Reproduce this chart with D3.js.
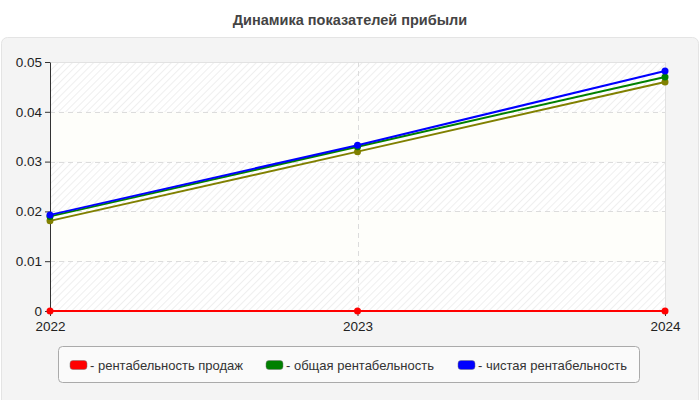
<!DOCTYPE html>
<html>
<head>
<meta charset="utf-8">
<script src="https://cdn.jsdelivr.net/npm/d3@7"></script>
<style>
  body { margin: 0; background: #fff; }
  svg { display: block; font-family: "Liberation Sans", Arial, sans-serif; }
</style>
</head>
<body>
<div id="chart"></div>
<script>
const years = ["2022", "2023", "2024"];
const salesProfit = [0, 0, 0];
const totalProfit = [0.019, 0.033, 0.047];
const netProfit = [0.0193, 0.0333, 0.0482];
const extraSeries = [0.0181, 0.032, 0.046];
const yTicks = [0, 0.01, 0.02, 0.03, 0.04, 0.05];

const series = [
  { name: "рентабельность продаж", values: salesProfit, color: "#ff0000", legend: true },
  { name: "extra", values: extraSeries, color: "#808000", legend: false },
  { name: "общая рентабельность", values: totalProfit, color: "#008000", legend: true },
  { name: "чистая рентабельность", values: netProfit, color: "#0000ff", legend: true }
];

const width = 700, height = 400,
  margin = ({ top: 62, right: 35, bottom: 89, left: 50 });

const svg = d3.select("#chart")
  .append("svg")
  .attr("width", width)
  .attr("height", height);

// hatch pattern
const defs = svg.append("defs");
const pat = defs.append("pattern")
  .attr("id", "hatch")
  .attr("patternUnits", "userSpaceOnUse")
  .attr("width", 5)
  .attr("height", 5)
  .attr("patternTransform", "rotate(45)");
pat.append("rect").attr("width", 5).attr("height", 5).attr("fill", "#ffffff");
pat.append("line")
  .attr("x1", 0).attr("y1", 0).attr("x2", 0).attr("y2", 5)
  .attr("stroke", "#eaeaea").attr("stroke-width", 1.5);

// title
svg.append("text")
  .attr("x", width / 2)
  .attr("y", 25)
  .attr("text-anchor", "middle")
  .attr("font-size", 14.5)
  .attr("font-weight", "bold")
  .attr("fill", "#444")
  .text("Динамика показателей прибыли");

// panel
svg.append("rect")
  .attr("x", 1.5).attr("y", 37.5)
  .attr("width", 697).attr("height", 370)
  .attr("rx", 6)
  .attr("fill", "#f4f4f4")
  .attr("stroke", "#e4e4e4");

const x = d3.scalePoint()
  .domain(years)
  .range([margin.left, width - margin.right]);

const y = d3.scaleLinear()
  .domain([0, 0.05])
  .range([height - margin.bottom, margin.top]);

// bands
const bands = yTicks.slice(0, -1).map((t, i) => [t, yTicks[i + 1], i]);
svg.append("g")
  .selectAll("rect")
  .data(bands)
  .join("rect")
  .attr("x", margin.left)
  .attr("y", d => y(d[1]))
  .attr("width", width - margin.right - margin.left)
  .attr("height", d => y(d[0]) - y(d[1]))
  .attr("fill", d => d[2] % 2 === 0 ? "url(#hatch)" : "#fefefa");

// plot border
svg.append("rect")
  .attr("x", margin.left + 0.5)
  .attr("y", margin.top + 0.5)
  .attr("width", width - margin.right - margin.left)
  .attr("height", height - margin.bottom - margin.top)
  .attr("fill", "none")
  .attr("stroke", "#e2e2e2");

// grid
svg.append("g")
  .selectAll("line")
  .data(yTicks.slice(1, -1))
  .join("line")
  .attr("x1", margin.left)
  .attr("x2", width - margin.right)
  .attr("y1", d => Math.round(y(d)) + 0.5)
  .attr("y2", d => Math.round(y(d)) + 0.5)
  .attr("stroke", "#dcdcdc")
  .attr("stroke-dasharray", "5,4");

svg.append("line")
  .attr("x1", Math.round(x("2023")) + 0.5)
  .attr("x2", Math.round(x("2023")) + 0.5)
  .attr("y1", margin.top)
  .attr("y2", height - margin.bottom)
  .attr("stroke", "#dcdcdc")
  .attr("stroke-dasharray", "5,4");

// axes
const yAxis = svg.append("g")
  .attr("transform", `translate(${margin.left},0)`)
  .call(d3.axisLeft(y).tickValues(yTicks).tickSize(5).tickSizeOuter(0)
    .tickFormat(d => d === 0 ? "0" : d3.format(".2f")(d)));
yAxis.select(".domain").attr("stroke", "#333");
yAxis.selectAll(".tick line").attr("stroke", "#333");
yAxis.selectAll("text").attr("font-size", 13.5).attr("fill", "#222")
  .attr("font-family", "Liberation Sans, Arial, sans-serif");

const xAxis = svg.append("g")
  .attr("transform", `translate(0,${height - margin.bottom})`)
  .call(d3.axisBottom(x).tickSize(5).tickSizeOuter(0));
xAxis.select(".domain").attr("stroke", "#333");
xAxis.selectAll(".tick line").attr("stroke", "#333");
xAxis.selectAll("text").attr("font-size", 13.5).attr("fill", "#222")
  .attr("y", 10)
  .attr("dy", "0.71em")
  .attr("font-family", "Liberation Sans, Arial, sans-serif");

// lines
const line = d3.line()
  .x((d, i) => x(years[i]))
  .y(d => y(d));

const sg = svg.append("g")
  .selectAll("g")
  .data(series)
  .join("g");

sg.append("path")
  .attr("d", d => line(d.values))
  .attr("fill", "none")
  .attr("stroke", d => d.color)
  .attr("stroke-width", 2);

sg.each(function (s) {
  d3.select(this).selectAll("circle")
    .data(s.values)
    .join("circle")
    .attr("cx", (d, i) => x(years[i]))
    .attr("cy", d => y(d))
    .attr("r", 3.5)
    .attr("fill", s.color);
});

// legend
const legend = svg.append("g");
legend.append("rect")
  .attr("x", 58.5).attr("y", 346.5)
  .attr("width", 581).attr("height", 36)
  .attr("rx", 4)
  .attr("fill", "#fafafa")
  .attr("stroke", "#aaa");

const legendX = [70, 266, 458];
const li = legend.selectAll("g.item")
  .data(series.filter(s => s.legend))
  .join("g")
  .attr("class", "item")
  .attr("transform", (d, i) => `translate(${legendX[i]},365)`);

li.append("rect")
  .attr("x", 0).attr("y", -4.5)
  .attr("width", 17).attr("height", 9)
  .attr("rx", 3)
  .attr("fill", d => d.color)
  .attr("stroke", "#777")
  .attr("stroke-width", 0.5);

li.append("text")
  .attr("x", 20)
  .attr("y", 4.5)
  .attr("font-size", 13)
  .attr("fill", "#333")
  .text(d => "- " + d.name);
</script>
</body>
</html>
